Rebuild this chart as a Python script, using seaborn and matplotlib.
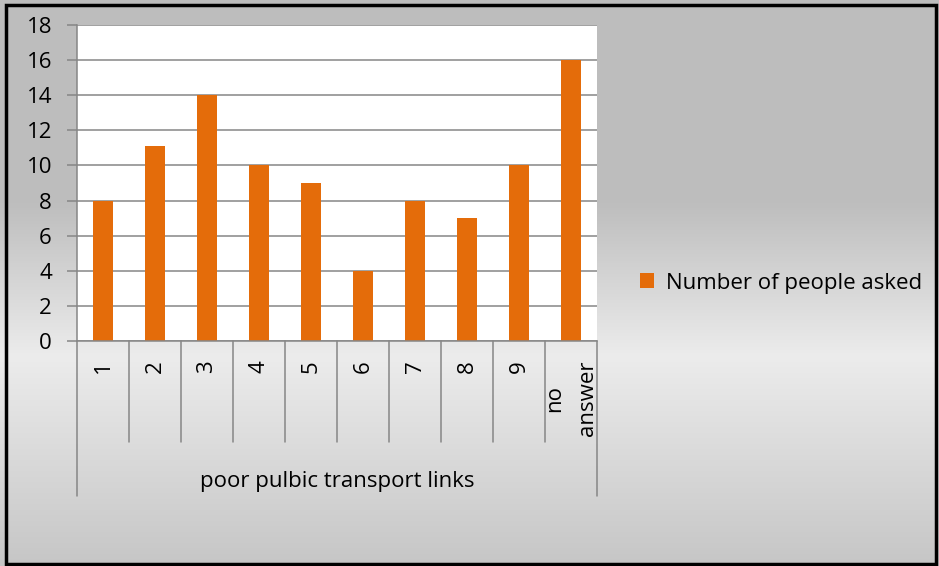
import matplotlib
matplotlib.use('Agg')
import matplotlib.pyplot as plt
import matplotlib.transforms as mtransforms
from matplotlib.colors import LinearSegmentedColormap
from matplotlib.patches import Rectangle
import seaborn as sns
import numpy as np

# chart data
categories = ['1', '2', '3', '4', '5', '6', '7', '8', '9', 'no\nanswer']
values = [8, 11.1, 14, 10, 9, 4, 8, 7, 10, 16]
group_label = 'poor pulbic transport links'
series_name = 'Number of people asked'
yticks = list(range(0, 19, 2))

bar_color = '#E46C0A'
line_color = '#868686'
fs = 16

sns.set_theme(style='white')
plt.rcParams['font.family'] = ['Open Sans', 'DejaVu Sans']
plt.rcParams['text.color'] = 'black'

fig = plt.figure(figsize=(9.39, 5.66), dpi=100)

# grey gradient behind the chart, like the Excel chart area
bg = fig.add_axes([0, 0, 1, 1], zorder=-10)
stops = [(0.0, '#bdbdbd'), (0.36, '#bebebe'), (0.63, '#ececec'), (1.0, '#c6c6c6')]
cmap = LinearSegmentedColormap.from_list('bg', stops)
grad = np.linspace(0, 1, 256).reshape(-1, 1)
bg.imshow(grad, aspect='auto', cmap=cmap, extent=[0, 1, 0, 1], origin='upper')
bg.axis('off')

ax = fig.add_axes([77 / 939, 1 - 341 / 566, 520 / 939, 316 / 566])
ax.set_facecolor('white')
sns.barplot(x=categories, y=values, color=bar_color, width=0.4, saturation=1,
            linewidth=0, ax=ax, label=series_name)

ax.set_ylim(0, 18)
ax.set_xlim(-0.5, len(categories) - 0.5)
ax.set_yticks(yticks)
ax.set_xlabel('')
ax.set_ylabel('')
ax.yaxis.grid(True, color=line_color, lw=1.1)
ax.set_axisbelow(True)
for s in ['top', 'right']:
    ax.spines[s].set_visible(False)
for s in ['left', 'bottom']:
    ax.spines[s].set_color(line_color)
    ax.spines[s].set_linewidth(1.1)

ax.tick_params(axis='y', left=True, length=7, width=1.1, color=line_color,
               pad=11, labelsize=fs, labelcolor='black')
ax.tick_params(axis='x', length=0, pad=14, labelsize=fs, labelcolor='black')
for lbl in ax.get_xticklabels():
    lbl.set_rotation(90)
    lbl.set_va('top')
    lbl.set_ha('center')
    lbl.set_multialignment('center')
    lbl.set_linespacing(1.75)

# multi-level category axis: separators + group label
trans = mtransforms.blended_transform_factory(ax.transData, ax.transAxes)
n = len(categories)
for i in range(n + 1):
    xb = i - 0.5
    depth = -0.49 if i in (0, n) else -0.32
    ax.plot([xb, xb], [0, depth], transform=trans, color=line_color, lw=1.1, clip_on=False)
ax.text((n - 1) / 2, -0.446, group_label, transform=trans, ha='center', va='center',
        fontsize=fs, color='black')

leg = ax.legend(loc='center left', bbox_to_anchor=(640 / 939, 0.5), bbox_transform=fig.transFigure,
                frameon=False, handlelength=0.65, handleheight=0.65, handletextpad=0.5,
                fontsize=fs, borderaxespad=0, borderpad=0)
for t in leg.get_texts():
    t.set_color('black')

# black outer border
fig.patches.append(Rectangle((0.006, 0.0035), 0.991, 0.9885, transform=fig.transFigure,
                             fill=False, ec='black', lw=2.5))

fig.savefig('out.png', dpi=100)
